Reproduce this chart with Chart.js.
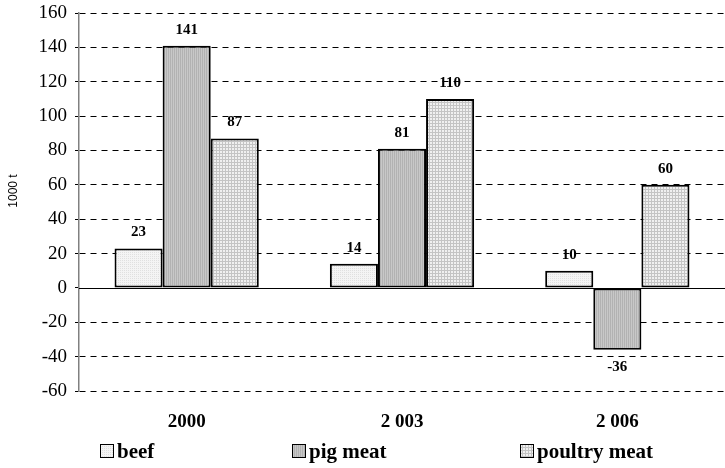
<!DOCTYPE html>
<html>
<head>
<meta charset="utf-8">
<script src="https://cdn.jsdelivr.net/npm/chart.js@4"></script>
<style>
  html, body { margin: 0; padding: 0; background: #fff; }
  #wrap { width: 725px; height: 468px; position: relative; }
</style>
</head>
<body>
<div id="wrap"><canvas id="c" width="725" height="468"></canvas></div>
<script>
const categories = ['2000', '2 003', '2 006'];
const seriesNames = ['beef', 'pig meat', 'poultry meat'];
const beef = [23, 14, 10];
const pigMeat = [141, 81, -36];
const poultryMeat = [87, 110, 60];
const yMin = -60, yMax = 160, yStep = 20;
const yAxisTitle = '1000 t';

function makePattern(kind) {
  const c = document.createElement('canvas');
  const ctx = c.getContext('2d');
  if (kind === 'beef') {
    c.width = 2; c.height = 2;
    ctx.fillStyle = '#f4f4f4'; ctx.fillRect(0, 0, 2, 2);
    ctx.fillStyle = '#e0e0e0'; ctx.fillRect(0, 0, 1, 1);
  } else if (kind === 'pig') {
    c.width = 2; c.height = 2;
    ctx.fillStyle = '#c8c8c8'; ctx.fillRect(0, 0, 2, 2);
    ctx.fillStyle = '#b2b2b2'; ctx.fillRect(0, 0, 1, 2);
  } else {
    c.width = 3; c.height = 3;
    ctx.fillStyle = '#f0f0f0'; ctx.fillRect(0, 0, 3, 3);
    ctx.fillStyle = '#c4c4c4'; ctx.fillRect(0, 0, 3, 1); ctx.fillRect(0, 0, 1, 3);
  }
  return document.getElementById('c').getContext('2d').createPattern(c, 'repeat');
}
const fills = [makePattern('beef'), makePattern('pig'), makePattern('poultry')];

const serif = '"Liberation Serif", "Times New Roman", serif';

const decorPlugin = {
  id: 'decor',
  beforeDatasetsDraw(chart) {
    const { ctx, chartArea, scales } = chart;
    const y0 = Math.round(scales.y.getPixelForValue(0)) + 0.5;
    ctx.save();
    ctx.strokeStyle = '#000';
    ctx.lineWidth = 1;
    ctx.beginPath();
    ctx.moveTo(chartArea.left, y0);
    ctx.lineTo(chartArea.right, y0);
    ctx.stroke();
    ctx.restore();
  },
  afterDatasetsDraw(chart) {
    const { ctx } = chart;
    ctx.save();
    ctx.font = 'bold 15px ' + serif;
    ctx.fillStyle = '#000';
    ctx.textAlign = 'center';
    ctx.textBaseline = 'middle';
    chart.data.datasets.forEach((ds, di) => {
      const meta = chart.getDatasetMeta(di);
      meta.data.forEach((bar, i) => {
        const v = ds.data[i];
        const y = v >= 0 ? bar.y - 16 : bar.y + 17;
        ctx.fillText(String(v), bar.x, y);
      });
    });
    ctx.restore();
  },
  afterDraw(chart) {
    const { ctx } = chart;
    ctx.save();
    ctx.font = '12px "Liberation Sans", Arial, sans-serif';
    ctx.fillStyle = '#000';
    ctx.textAlign = 'center';
    ctx.textBaseline = 'middle';
    ctx.translate(14, 191);
    ctx.rotate(-Math.PI / 2);
    ctx.fillText(yAxisTitle, 0, 0);
    ctx.restore();
    // legend
    const xs = [100, 292, 520];
    const boxY = 444, box = 14;
    ctx.save();
    ctx.font = 'bold 21px ' + serif;
    ctx.textBaseline = 'alphabetic';
    chart.data.datasets.forEach((ds, di) => {
      const x = xs[di];
      ctx.fillStyle = fills[di];
      ctx.fillRect(x, boxY, box, box);
      ctx.strokeStyle = '#000';
      ctx.lineWidth = 1;
      ctx.strokeRect(x + 0.5, boxY + 0.5, box - 1, box - 1);
      ctx.fillStyle = '#000';
      ctx.fillText(ds.label, x + box + 3, boxY + box);
    });
    ctx.restore();
  }
};

new Chart(document.getElementById('c'), {
  type: 'bar',
  data: {
    labels: categories,
    datasets: [
      { label: seriesNames[0], data: beef, backgroundColor: fills[0] },
      { label: seriesNames[1], data: pigMeat, backgroundColor: fills[1] },
      { label: seriesNames[2], data: poultryMeat, backgroundColor: fills[2] }
    ]
  },
  options: {
    responsive: false,
    animation: false,
    devicePixelRatio: 1,
    layout: { padding: { top: 13, right: 0, left: 0, bottom: 0 } },
    datasets: {
      bar: {
        borderColor: '#000',
        borderWidth: 2,
        borderSkipped: false,
        categoryPercentage: 0.67,
        barPercentage: 1.0
      }
    },
    plugins: {
      legend: { display: false },
      tooltip: { enabled: false }
    },
    scales: {
      x: {
        grid: { display: false, drawTicks: false },
        border: { display: false },
        ticks: {
          color: '#000',
          padding: 20,
          font: { family: serif, size: 19, weight: 'bold' }
        },
        afterFit(s) { s.height = 77; s.paddingLeft = 0; s.paddingRight = 0; }
      },
      y: {
        min: yMin,
        max: yMax,
        ticks: {
          stepSize: yStep,
          color: '#000',
          padding: 8,
          font: { family: serif, size: 19 }
        },
        grid: {
          color: (ctx) => (ctx.tick && ctx.tick.value === 0 ? 'rgba(0,0,0,0)' : '#000'),
          tickColor: '#000',
          tickLength: 4,
          tickBorderDash: [],
          lineWidth: 1
        },
        border: { display: true, color: '#808080', width: 1.5, dash: [6, 5] },
        afterFit(s) { s.width = 79; s.paddingTop = 0; s.paddingBottom = 0; }
      }
    }
  },
  plugins: [decorPlugin]
});
</script>
</body>
</html>
